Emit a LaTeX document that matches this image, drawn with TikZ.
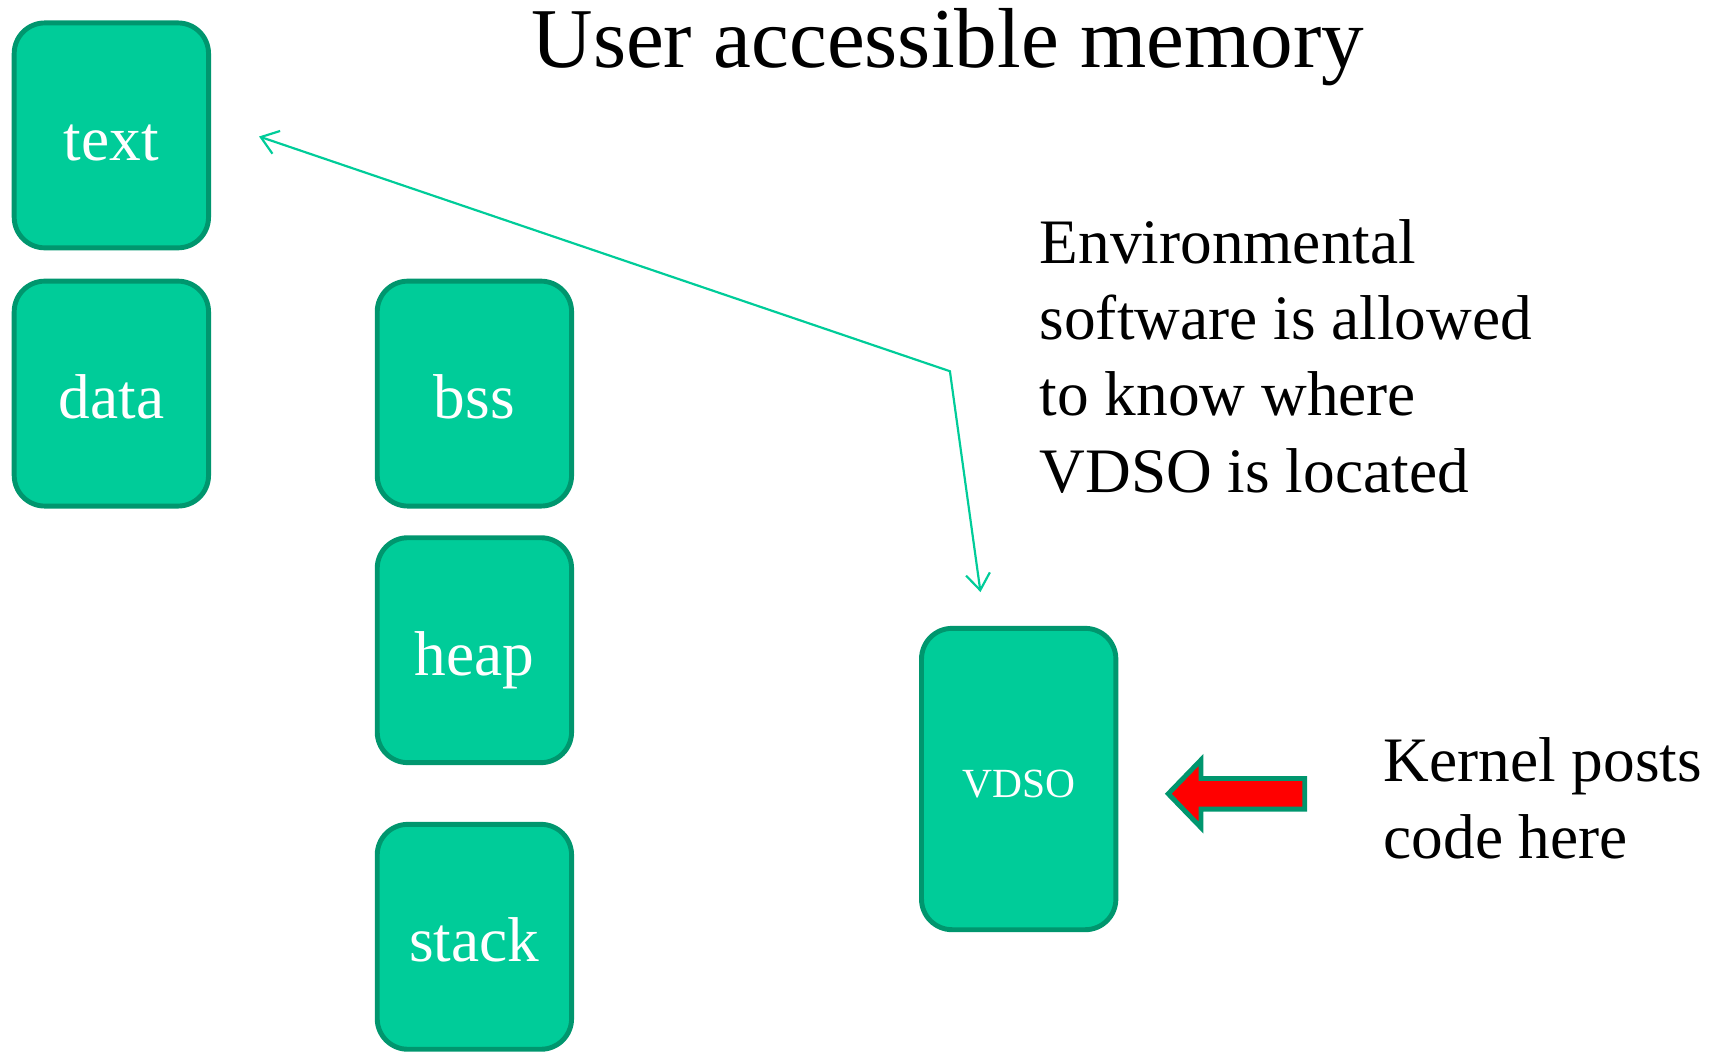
\documentclass[tikz,border=0pt]{standalone}
\usepackage{fontspec}
\setmainfont{Liberation Serif}
\usetikzlibrary{arrows.meta}
\definecolor{boxfill}{RGB}{0,204,153}
\definecolor{boxline}{RGB}{0,150,110}
\begin{document}
\begin{tikzpicture}[x=1pt,y=-1pt,
  seg/.style={draw=boxline, fill=boxfill, line width=4.5pt, rounded corners=28pt,
    minimum width=178pt, minimum height=206pt, inner sep=0pt, text=white,
    font=\fontsize{58}{70}\selectfont, text height=46pt, text depth=0pt},
  lbl/.style={inner sep=0pt, align=left, font=\fontsize{58}{70}\selectfont},
  barb/.tip={Straight Barb[length=15pt,width=22pt]},
  link/.style={draw=boxfill, line width=2pt, barb-barb}
]
\useasboundingbox (0,0) rectangle (1568,963);
\node[anchor=base, inner sep=0pt, font=\fontsize{78}{94}\selectfont] (title) at (868,62) {User accessible memory};
\node[seg] (txt) at (102,124) {text};
\node[seg] (data) at (102,360.5) {data};
\node[seg] (bss) at (434.5,360.5) {bss};
\node[seg] (heap) at (434.5,595.5) {heap};
\node[seg] (stack) at (434.5,858) {stack};
\node[seg, minimum height=276pt, font=\fontsize{38}{46}\selectfont, text height=34pt] (vdso) at (933,713.5) {VDSO};
\node[lbl, anchor=base west] (env) at (952,451) {Environmental\\software is allowed\\to know where\\VDSO is located};
\node[lbl, anchor=base west] (kern) at (1267,786) {Kernel posts\\code here};
\coordinate (tipA) at ([xshift=44pt,yshift=-1pt]txt.east);
\coordinate (bend) at (870,340);
\coordinate (tipB) at ([xshift=-35pt,yshift=31pt]vdso.north);
\draw[link] (tipA) -- (bend) -- (tipB);
\draw[draw=boxline, fill=red, line width=4.5pt, miter limit=10]
  (1070,727) -- (1100,696) -- (1100,713) -- (1195,713) -- (1195,741)
  -- (1100,741) -- (1100,758) -- cycle;
\end{tikzpicture}
\end{document}
